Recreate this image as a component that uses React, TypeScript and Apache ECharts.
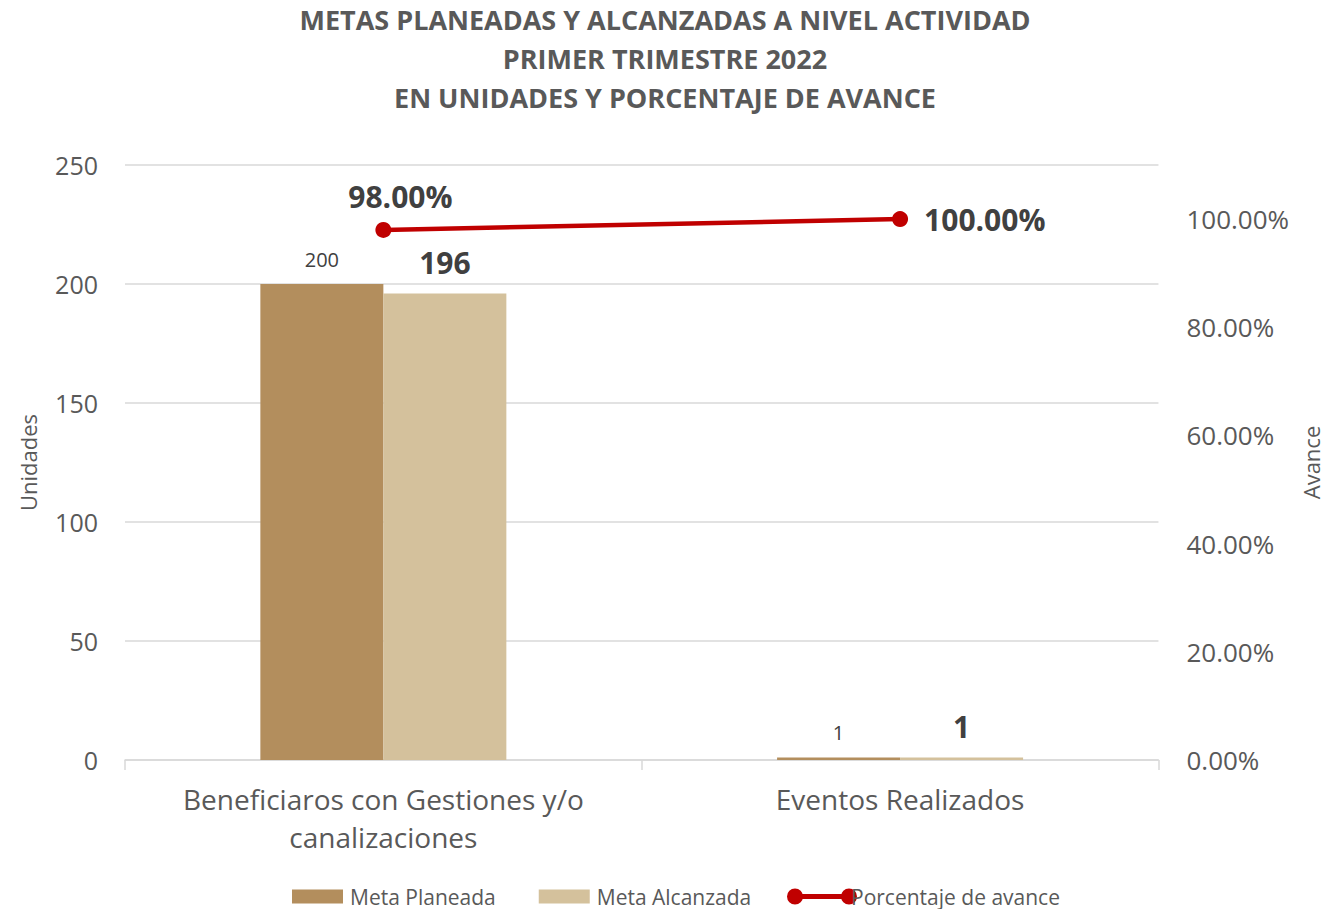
import React, { useEffect, useRef } from "react";
import * as echarts from "echarts";

const categories = ["Beneficiaros con Gestiones y/o\ncanalizaciones", "Eventos Realizados"];
const metaPlaneada = [200, 1];
const metaAlcanzada = [196, 1];
const porcentajeAvance = [0.98, 1.0];
const titleLines = [
  "METAS PLANEADAS Y ALCANZADAS A NIVEL ACTIVIDAD",
  "PRIMER TRIMESTRE 2022",
  "EN UNIDADES Y PORCENTAJE DE AVANCE",
];

const FONT = "'Open Sans', 'Noto Sans', sans-serif";
const LEGEND_LINE_ICON =
  "path://M0,8A8,8 0 1,0 16,8A8,8 0 1,0 0,8ZM8,5.5V10.5H62V5.5ZM54,8A8,8 0 1,0 70,8A8,8 0 1,0 54,8Z";

export default function App() {
  const ref = useRef<HTMLDivElement>(null);
  useEffect(() => {
    if (!ref.current) return;
    const chart = echarts.init(ref.current, null, { renderer: "svg" });
    chart.setOption({
      animation: false,
      backgroundColor: "#ffffff",
      title: {
        text: titleLines.join("\n"),
        left: "center",
        top: 0,
        padding: 0,
        textStyle: {
          fontFamily: FONT,
          fontSize: 27,
          fontWeight: "bold",
          color: "#595959",
          lineHeight: 39,
        },
      },
      legend: [
        {
          data: ["Meta Planeada", "Meta Alcanzada"],
          left: 292,
          top: 886,
          padding: 0,
          icon: "rect",
          itemWidth: 51,
          itemHeight: 14,
          itemGap: 43,
          textStyle: { fontFamily: FONT, fontSize: 21, color: "#595959", padding: [0, 0, 0, 2] },
        },
        {
          data: [{ name: "Porcentaje de avance", icon: LEGEND_LINE_ICON }],
          left: 787,
          top: 886,
          padding: 0,
          itemWidth: 70,
          itemHeight: 16,
          textStyle: { fontFamily: FONT, fontSize: 21, color: "#595959", padding: [0, 0, 0, -11] },
        },
      ],
      grid: { left: 125, right: 165, top: 165, bottom: 149, containLabel: false },
      xAxis: {
        type: "category",
        data: categories,
        axisLine: { show: true, lineStyle: { color: "#D9D9D9", width: 1.5 } },
        axisTick: { show: true, length: 10, lineStyle: { color: "#D9D9D9", width: 1.5 } },
        axisLabel: {
          interval: 0,
          hideOverlap: false,
          fontFamily: FONT,
          fontSize: 28,
          color: "#595959",
          lineHeight: 38,
          margin: 20,
        },
      },
      yAxis: [
        {
          type: "value",
          min: 0,
          max: 250,
          interval: 50,
          name: "Unidades",
          nameLocation: "middle",
          nameGap: 86,
          nameTextStyle: { fontFamily: FONT, fontSize: 22, color: "#595959" },
          axisLine: { show: false },
          axisTick: { show: false },
          axisLabel: { fontFamily: FONT, fontSize: 25, color: "#595959", margin: 27 },
          splitLine: { lineStyle: { color: "#D9D9D9", width: 1.5 } },
        },
        {
          type: "value",
          min: 0,
          max: 1.1,
          interval: 0.2,
          name: "Avance",
          nameLocation: "middle",
          nameGap: 140,
          nameRotate: 90,
          nameTextStyle: { fontFamily: FONT, fontSize: 22, color: "#595959" },
          axisLine: { show: false },
          axisTick: { show: false },
          splitLine: { show: false },
          axisLabel: {
            fontFamily: FONT,
            fontSize: 26,
            color: "#595959",
            margin: 28,
            showMaxLabel: false,
            formatter: (v: number) => (v * 100).toFixed(2) + "%",
          },
        },
      ],
      series: [
        {
          name: "Meta Planeada",
          type: "bar",
          data: metaPlaneada,
          barWidth: 123,
          barGap: "0%",
          itemStyle: { color: "#B38E5D" },
          label: {
            show: true,
            position: "top",
            distance: 15,
            fontFamily: FONT,
            fontSize: 20,
            color: "#404040",
          },
        },
        {
          name: "Meta Alcanzada",
          type: "bar",
          data: metaAlcanzada,
          barWidth: 123,
          barGap: "0%",
          itemStyle: { color: "#D4C19C" },
          label: {
            show: true,
            position: "top",
            distance: 16,
            fontFamily: FONT,
            fontSize: 30,
            fontWeight: "bold",
            color: "#404040",
          },
        },
        {
          name: "Porcentaje de avance",
          type: "line",
          yAxisIndex: 1,
          data: porcentajeAvance.map((v, i) => ({
            value: v,
            label:
              i === 0
                ? { position: "top", distance: 12, offset: [17, 2] }
                : { position: "right", distance: 16 },
          })),
          symbol: "circle",
          symbolSize: 16,
          z: 5,
          lineStyle: { color: "#C00000", width: 4.5 },
          itemStyle: { color: "#C00000" },
          label: {
            show: true,
            fontFamily: FONT,
            fontSize: 30,
            fontWeight: "bold",
            color: "#404040",
            formatter: (p: any) => (p.value * 100).toFixed(2) + "%",
          },
        },
      ],
    });
    return () => chart.dispose();
  }, []);
  return <div ref={ref} style={{ width: 1330, height: 909, position: "absolute", left: 0, top: 0 }} />;
}
